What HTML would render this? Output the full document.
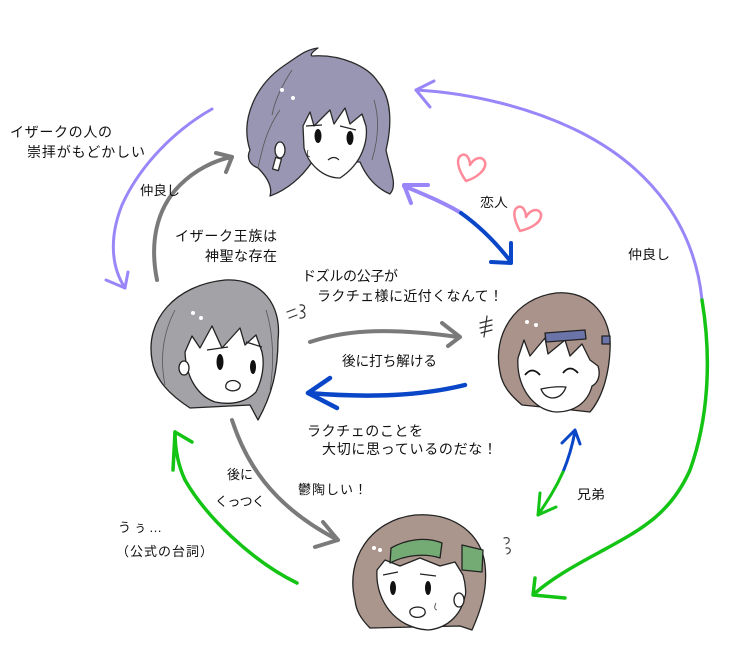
<!DOCTYPE html>
<html><head><meta charset="utf-8">
<style>
html,body{margin:0;padding:0;background:#fff;}
svg{display:block;}
text{font-family:"Liberation Sans","Noto Sans CJK JP",sans-serif;font-size:14px;fill:#111;}
</style></head>
<body>
<svg width="736" height="670" viewBox="0 0 736 670" xmlns="http://www.w3.org/2000/svg">
<g fill="none" stroke-linecap="round" stroke-linejoin="round">
  <!-- big purple arc -->
  <path d="M702,300 C695,230 655,170 580,132 C530,107 470,93 416,90" stroke="#9a86f8" stroke-width="3"/>
  <polyline points="434,81 416,90 430,107" stroke="#9a86f8" stroke-width="3"/>
  <!-- green continuation -->
  <path d="M702,300 C712,360 708,420 690,470 C670,515 640,530 600,552 C570,568 550,580 534,594" stroke="#14c414" stroke-width="3.5"/>
  <polyline points="535,578 533,595 565,598" stroke="#14c414" stroke-width="3.5"/>
  <!-- brothers -->
  <path d="M575,431 C572,448 568,460 563,472" stroke="#0a46c8" stroke-width="3"/>
  <path d="M563,472 C555,490 546,503 538,515" stroke="#14c414" stroke-width="3"/>
  <polyline points="562,443 575,430 580,444" stroke="#0a46c8" stroke-width="3"/>
  <polyline points="540,493 538,515 556,507" stroke="#14c414" stroke-width="3"/>
  <!-- lovers -->
  <path d="M404,186 C425,195 445,203 461,213" stroke="#9a86f8" stroke-width="4"/>
  <path d="M461,213 C482,228 498,245 511,262" stroke="#0a46c8" stroke-width="4"/>
  <polyline points="428,185 404,185 411,203" stroke="#9a86f8" stroke-width="4"/>
  <polyline points="511,243 511,263 491,262" stroke="#0a46c8" stroke-width="4"/>
  <!-- hearts -->
  <path d="M466,181 C458,170 455,158 462,155 C467,153 470,160 470,165 C474,158 482,155 485,162 C487,170 476,178 466,181 Z" stroke="#ff8a9a" stroke-width="2.5"/>
  <path d="M520,231 C514,220 512,210 518,207 C523,205 526,212 526,217 C530,210 538,207 541,214 C542,222 532,228 520,231 Z" stroke="#ff8a9a" stroke-width="2.5"/>
  <!-- top-left purple -->
  <path d="M212,109 C175,130 140,165 122,205 C110,235 110,265 125,288" stroke="#9a86f8" stroke-width="3"/>
  <polyline points="106,280 125,288 128,272" stroke="#9a86f8" stroke-width="3"/>
  <!-- gray up -->
  <path d="M157,280 C150,245 155,210 180,185 C195,170 215,160 232,157" stroke="#7a7a7a" stroke-width="4"/>
  <polyline points="216,153 232,157 226,172" stroke="#7a7a7a" stroke-width="4"/>
  <!-- gray right -->
  <path d="M310,342 C340,332 380,326 458,337" stroke="#7a7a7a" stroke-width="4"/>
  <polyline points="442,323 460,337 448,346" stroke="#7a7a7a" stroke-width="4"/>
  <!-- blue left -->
  <path d="M465,385 C420,396 370,398 308,393" stroke="#0a46c8" stroke-width="4.5"/>
  <polyline points="330,378 308,393 337,408" stroke="#0a46c8" stroke-width="4.5"/>
  <!-- gray down -->
  <path d="M232,420 C245,460 270,505 338,540" stroke="#7a7a7a" stroke-width="4"/>
  <polyline points="323,522 338,540 315,547" stroke="#7a7a7a" stroke-width="4"/>
  <!-- green left -->
  <path d="M297,583 C250,560 205,515 185,480 C178,465 175,450 175,432" stroke="#14c414" stroke-width="3.5"/>
  <polyline points="192,442 175,432 173,470" stroke="#14c414" stroke-width="3.5"/>
  <!-- marks -->
  <path d="M287,312 L295,309 M289,318 L297,315 M300,305 C306,304 306,310 301,311 C307,312 306,319 300,318" stroke="#333" stroke-width="1.2"/>
  <path d="M480,323 L492,320 M480,328 L492,325 M481,333 L492,330 M487,316 L484,337" stroke="#333" stroke-width="1.2"/>
  <path d="M504,538 C510,536 511,542 506,544 M506,548 C511,547 512,552 507,554" stroke="#444" stroke-width="1.2"/>
</g>

<!-- TOP FACE -->
<g stroke="#2a2a2a" stroke-width="1.3" stroke-linejoin="round">
  <path d="M250,150 C240,120 255,85 285,65 C300,55 305,50 318,48 C312,52 310,55 312,56 C340,54 368,66 378,82 C392,98 392,125 386,150 C390,170 398,185 390,194 C376,188 366,176 360,162 L312,162 C302,177 287,190 270,196 C273,186 266,176 258,168 C250,165 246,158 250,150 Z" fill="#9896b2"/>
  <path d="M303,126 L310,112 L314,126 L330,110 L334,124 L345,108 L350,124 L362,114 L366,126 C368,140 363,163 340,178 C322,178 308,163 304,148 Z" fill="#fff"/>
  <path d="M258,168 C262,150 266,130 280,110 M372,160 C378,140 380,120 374,100 M292,70 C282,85 275,100 272,115" fill="none" stroke="#555" stroke-width="0.8"/>
  <ellipse cx="280" cy="150" rx="5" ry="8" fill="#fff"/>
  <rect x="274" y="158" width="6" height="12" fill="#fff" transform="rotate(15 277 164)"/>
  <ellipse cx="318" cy="136" rx="3.5" ry="7" fill="#111" stroke="none"/>
  <ellipse cx="350" cy="138" rx="3.5" ry="7" fill="#111" stroke="none"/>
  <path d="M306,126 L322,125 M340,126 L356,130" fill="none" stroke="#222" stroke-width="1.2"/>
  <path d="M328,160 Q334,155 339,160" fill="none" stroke="#222" stroke-width="1.2"/>
  <path d="M308,150 Q306,156 310,157" fill="none" stroke="#333" stroke-width="0.8"/>
  <circle cx="282" cy="90" r="2" fill="#fff" stroke="none"/>
  <circle cx="293" cy="98" r="2" fill="#fff" stroke="none"/>
</g>

<!-- LEFT FACE -->
<g stroke="#222" stroke-width="1.3" stroke-linejoin="round">
  <path d="M152,360 C145,320 175,285 225,280 C262,278 282,305 278,340 C278,370 272,395 258,420 L250,405 L190,408 C170,395 155,380 152,360 Z" fill="#a3a3a7"/>
  <path d="M185,352 L192,336 L200,348 L212,326 L222,348 L240,328 L245,345 L256,335 L262,352 C265,365 262,380 256,392 C245,403 230,405 215,402 C198,396 186,378 185,352 Z" fill="#fff"/>
  <path d="M165,385 C160,360 162,335 175,310 M270,390 C274,365 274,335 266,310" fill="none" stroke="#555" stroke-width="0.8"/>
  <ellipse cx="184" cy="368" rx="5" ry="7" fill="#fff"/>
  <ellipse cx="220" cy="362" rx="3.5" ry="8" fill="#111" stroke="none"/>
  <ellipse cx="253" cy="367" rx="3" ry="7" fill="#111" stroke="none"/>
  <path d="M207,350 L228,347 M246,342 L262,347" fill="none" stroke="#222" stroke-width="1.3"/>
  <path d="M226,388 C224,380 236,378 240,384 C242,391 230,393 226,388 Z" fill="#fff"/>
  <circle cx="193" cy="313" r="2" fill="#fff" stroke="none"/>
  <circle cx="201" cy="318" r="2" fill="#fff" stroke="none"/>
</g>

<!-- RIGHT FACE -->
<g stroke="#222" stroke-width="1.3" stroke-linejoin="round">
  <path d="M500,372 C492,335 515,298 556,293 C592,290 612,318 610,350 C609,375 602,398 590,412 L572,410 L522,405 C510,395 502,385 500,372 Z" fill="#aa938a"/>
  <path d="M518,358 L524,340 L530,356 L545,338 L548,354 L565,340 L570,356 L582,344 L590,360 L598,366 C601,375 598,383 592,386 C588,402 575,412 556,412 C532,410 516,385 518,358 Z" fill="#fff"/>
  <polygon points="545,333 585,330 586,339 546,342" fill="#6a74a8"/>
  <polygon points="602,336 610,336 610,344 602,344" fill="#6a74a8"/>
  <path d="M525,375 Q532,366 540,375 M563,373 Q570,364 578,373" fill="none" stroke="#111" stroke-width="1.8"/>
  <path d="M541,389 Q555,386 566,387 Q562,398 552,398 Q544,397 541,389 Z" fill="#fff" stroke-width="1.3"/>
  <circle cx="527" cy="322" r="2" fill="#fff" stroke="none"/>
  <circle cx="536" cy="325" r="2" fill="#fff" stroke="none"/>
</g>

<!-- BOTTOM FACE -->
<g stroke="#222" stroke-width="1.3" stroke-linejoin="round">
  <path d="M355,600 C345,560 370,520 415,515 C455,512 482,535 485,565 C488,590 480,612 472,630 L460,626 L370,628 C360,618 356,610 355,600 Z" fill="#aa968c"/>
  <path d="M377,570 L385,560 L400,566 L420,558 L440,566 L455,562 L463,575 C466,585 466,595 465,596 C462,612 450,628 428,630 C395,628 375,600 377,570 Z" fill="#fff"/>
  <path d="M391,548 C405,540 425,536 442,543 L440,558 C425,553 405,555 390,563 Z" fill="#74aa74"/>
  <path d="M462,545 L483,550 L482,572 L462,570 Z" fill="#74aa74"/>
  <ellipse cx="459" cy="600" rx="5" ry="7" fill="#fff"/>
  <ellipse cx="393" cy="588" rx="3" ry="7" fill="#111" stroke="none"/>
  <ellipse cx="428" cy="588" rx="3" ry="7" fill="#111" stroke="none"/>
  <path d="M383,575 L398,572 M420,574 L436,576" fill="none" stroke="#222" stroke-width="1.2"/>
  <path d="M410,613 C408,606 424,605 425,611 C427,618 412,620 410,613 Z" fill="#fff" stroke-width="1.3"/>
  <path d="M436,603 Q433,609 437,610" fill="none" stroke="#333" stroke-width="0.8"/>
  <circle cx="374" cy="548" r="2" fill="#fff" stroke="none"/>
  <circle cx="380" cy="550" r="2" fill="#fff" stroke="none"/>
</g>

<!-- TEXT -->
<text x="10" y="137" textLength="102" lengthAdjust="spacing">イザークの人の</text>
<text x="27" y="157" textLength="118" lengthAdjust="spacing">崇拝がもどかしい</text>
<text x="140" y="195" textLength="40" lengthAdjust="spacingAndGlyphs" style="font-size:13px">仲良し</text>
<text x="175" y="241" textLength="102" lengthAdjust="spacing">イザーク王族は</text>
<text x="205" y="261" textLength="72" lengthAdjust="spacing">神聖な存在</text>
<text x="302" y="281" textLength="96" lengthAdjust="spacing">ドズルの公子が</text>
<text x="317" y="301" textLength="186" lengthAdjust="spacing">ラクチェ様に近付くなんて！</text>
<text x="342" y="366" textLength="95" lengthAdjust="spacingAndGlyphs">後に打ち解ける</text>
<text x="307" y="436" textLength="116" lengthAdjust="spacing">ラクチェのことを</text>
<text x="322" y="454" textLength="175" lengthAdjust="spacing">大切に思っているのだな！</text>
<text x="480" y="207" textLength="28" lengthAdjust="spacingAndGlyphs" style="font-size:13px">恋人</text>
<text x="628" y="259" textLength="42" lengthAdjust="spacingAndGlyphs" style="font-size:13px">仲良し</text>
<text x="577" y="499" textLength="28" lengthAdjust="spacingAndGlyphs" style="font-size:13px">兄弟</text>
<text x="227" y="479" textLength="26" lengthAdjust="spacingAndGlyphs" style="font-size:13px">後に</text>
<text x="215" y="506" textLength="50" lengthAdjust="spacing" style="font-size:13px">くっつく</text>
<text x="298" y="494" textLength="69" lengthAdjust="spacing" style="font-size:13px">鬱陶しい！</text>
<text x="118" y="532" textLength="44" lengthAdjust="spacing" style="font-size:13px">うぅ…</text>
<text x="116" y="556" textLength="97" lengthAdjust="spacing" style="font-size:13px">（公式の台詞）</text>
</svg>
</body></html>
